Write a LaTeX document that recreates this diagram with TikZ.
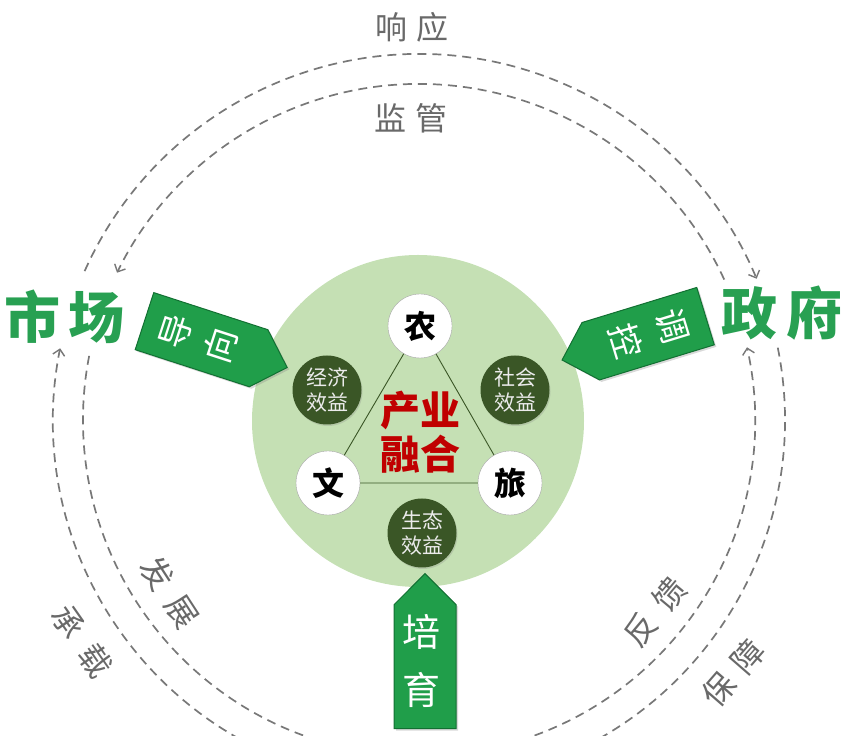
\documentclass[tikz,border=0pt]{standalone}
\usepackage{fontspec}
\newfontfamily\cjk{Noto Sans CJK SC}
\usetikzlibrary{positioning, arrows.meta, shapes.arrows, shadows}
\definecolor{basegreen}{RGB}{197,224,180}
\definecolor{effectgreen}{RGB}{58,86,38}
\definecolor{arrowgreen}{RGB}{32,158,74}
\definecolor{arrowdark}{RGB}{18,112,50}
\definecolor{titlegreen}{RGB}{40,160,82}
\definecolor{ringgray}{RGB}{120,120,120}
\definecolor{labelgray}{RGB}{105,105,105}
\definecolor{fusionred}{RGB}{192,0,0}
\newcommand{\gap}[1]{\hspace{#1pt}}

\begin{document}
\begin{tikzpicture}[
		x=1pt, y=1pt,
		ring/.style={draw=ringgray, dash pattern=on 9pt off 6pt, line width=1.7pt},
		ringarrow/.style={ring, -{Straight Barb[length=6pt, width=12pt, line width=1.4pt]}},
		ringlabel/.style={text=labelgray, inner sep=0pt, font=\cjk\fontsize{32}{32}\selectfont},
		actor/.style={text=titlegreen, inner sep=0pt, font=\cjk\bfseries\fontsize{56}{56}\selectfont},
		bigarrow/.style={single arrow, single arrow head extend=0pt, single arrow tip angle=90,
			minimum width=60pt, minimum height=150pt, inner sep=0pt, fill=arrowgreen, draw=arrowdark,
			line width=1pt, drop shadow={shadow xshift=2pt, shadow yshift=-2pt, opacity=0.3}},
		arrowtext/.style={text=white, inner sep=0pt, font=\cjk\fontsize{34}{34}\selectfont},
		pillar/.style={circle, draw=gray!70, fill=white, minimum size=64pt, inner sep=0pt,
			font=\cjk\bfseries\fontsize{32}{32}\selectfont},
		effect/.style={circle, fill=effectgreen, text=white!92!black, minimum size=69pt, inner sep=0pt,
			align=center, font=\cjk\fontsize{21}{25}\selectfont,
			drop shadow={shadow xshift=1pt, shadow yshift=-1.5pt, opacity=0.25}},
		triline/.style={draw=effectgreen, line width=0.9pt}
		]
		
		\useasboundingbox (0,0) rectangle (852,736);
		\clip (0,0) rectangle (852,736);
		
		% Dashed rings
		\coordinate (O) at (419,316);
		\draw[ringarrow] ([shift={(156:366pt)}]O) arc[start angle=156, end angle=22.7, radius=366pt];
		\draw[ringarrow] ([shift={(24.7:336pt)}]O) arc[start angle=24.7, end angle=154, radius=336pt];
		\draw[ringarrow] ([shift={(250:366pt)}]O) arc[start angle=250, end angle=168.7, radius=366pt];
		\draw[ring] ([shift={(169:336pt)}]O) arc[start angle=169, end angle=250, radius=336pt];
		\draw[ringarrow] ([shift={(-75:336pt)}]O) arc[start angle=-75, end angle=12.5, radius=336pt];
		\draw[ring] ([shift={(11.4:366pt)}]O) arc[start angle=11.4, end angle=-75, radius=366pt];
		
		% Ring labels
		\node[ringlabel] (respond) at (412,709) {响\gap{9}应};
		\node[ringlabel] (supervise) at (411,618) {监\gap{9}管};
		\node[ringlabel, rotate=-57] (develop) at (170,144) {发\gap{13}展};
		\node[ringlabel, rotate=-55] (carry) at (82,95) {承\gap{16}载};
		\node[ringlabel, rotate=50] (feedback) at (655,124) {反\gap{13}馈};
		\node[ringlabel, rotate=49] (secure) at (733,63) {保\gap{12}障};
		
		% Actors
		\node[actor] (market) at (65,419) {市\gap{8}场};
		\node[actor] (government) at (782,423) {政\gap{10}府};
		
		% Core circle
		\node[circle, fill=basegreen, minimum size=332pt] (base) at (418,315) {};
		
		% Define Nodes
		\node[pillar] (nong) at (420,410) {农};
		\node[pillar] (wen) at (328,253) {文};
		\node[pillar] (lv) at (510,253) {旅};
		\draw[triline] (nong) -- (wen) -- (lv) -- (nong);
		
		\node[effect] (economy) at (327,346) {经济\\效益};
		\node[effect] (society) at (515,346) {社会\\效益};
		\node[effect] (ecology) at (422,203) {生态\\效益};
		
		\node[text=fusionred, align=center, font=\cjk\bfseries\fontsize{40}{44}\selectfont] (fusion) at (420,304) {产业\\融合};
		
		% Arrows into the core
		\node[bigarrow, rotate=-18, anchor=tail] (guide) at (144,415) {};
		\node[arrowtext, rotate=72] (guideA) at ([shift={(-18:34pt)}]guide.tail) {导};
		\node[arrowtext, rotate=72] (guideB) at ([shift={(-18:80pt)}]guide.tail) {向};
		
		\node[bigarrow, rotate=197, anchor=tail] (regulate) at (706,420) {};
		\node[arrowtext, rotate=-73] (regulateA) at ([shift={(197:35pt)}]regulate.tail) {调};
		\node[arrowtext, rotate=-73] (regulateB) at ([shift={(197:84pt)}]regulate.tail) {控};
		
		\node[bigarrow, rotate=90, anchor=tip, minimum width=62pt, minimum height=155pt] (foster) at (425,163) {};
		\node[arrowtext, font=\cjk\fontsize{38}{38}\selectfont] (fosterA) at (421,104) {培};
		\node[arrowtext, font=\cjk\fontsize{38}{38}\selectfont] (fosterB) at (421,46) {育};
		
	\end{tikzpicture}
\end{document}
